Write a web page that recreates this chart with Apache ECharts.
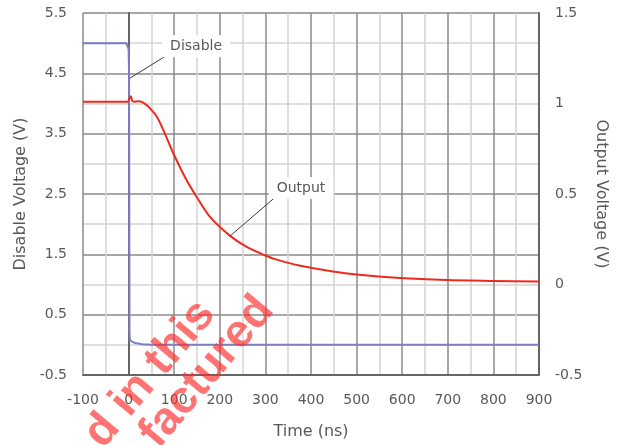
<!DOCTYPE html>
<html>
<head>
<meta charset="utf-8">
<script src="https://cdn.jsdelivr.net/npm/echarts@6/dist/echarts.min.js"></script>
<style>
	html, body { margin: 0; padding: 0; background: #fff; }
	#chart { width: 621px; height: 445px; }
</style>
</head>
<body>
<div id="chart"></div>
<script>
// Disable pin voltage (left axis, V) vs time (ns)
const disableTime = [-100, -5, -2, 0, 1, 2, 3, 8, 15, 30, 50, 900];
const disableVolt = [5.0, 5.0, 4.98, 4.9, 4.5, 0.2, 0.08, 0.05, 0.03, 0.01, 0.0, 0.0];

// Output voltage (right axis, V) vs time (ns)
const outTime = [-100, -2, 2, 5, 8, 12, 20, 30, 40, 47, 62, 76, 98, 127, 149, 178, 222, 258, 300, 321, 374, 448, 500, 595, 697, 798, 900];
const outVolt = [1.01, 1.01, 1.03, 1.04, 1.015, 1.01, 1.012, 1.008, 0.99, 0.973, 0.927, 0.854, 0.725, 0.577, 0.485, 0.375, 0.27, 0.209, 0.16, 0.14, 0.105, 0.072, 0.055, 0.036, 0.025, 0.02, 0.016];

// callouts: text position and leader line, in left-axis data coords
const callouts = [
	{ text: 'Disable', at: [148, 4.95], from: [3, 4.42], to: [82, 4.79] },
	{ text: 'Output', at: [378, 2.6], from: [222, 1.80], to: [319, 2.43] }
];

const textColor = '#595959';
const font = 'DejaVu Sans';

var myChart = echarts.init(document.getElementById('chart'));

let option = {
	animation: false,
	grid: { left: 83, right: 82, top: 13, bottom: 70 },
	xAxis: {
		type: 'value',
		min: -100,
		max: 900,
		interval: 100,
		name: 'Time (ns)',
		nameLocation: 'middle',
		nameGap: 49,
		nameTextStyle: { color: textColor, fontSize: 16, fontFamily: font },
		axisLine: { show: true, onZero: false, lineStyle: { color: '#666', width: 2 } },
		axisTick: { show: false },
		axisLabel: { color: textColor, fontSize: 14, fontFamily: font, margin: 18 },
		splitLine: { show: true, lineStyle: { color: '#8a8a8a', width: 1.5 } },
		minorTick: { show: false, splitNumber: 2 },
		minorSplitLine: { show: true, lineStyle: { color: '#d4d4d4', width: 1.5 } }
	},
	yAxis: [
		{
			type: 'value',
			min: -0.5,
			max: 5.5,
			interval: 1,
			name: 'Disable Voltage (V)',
			nameLocation: 'middle',
			nameGap: 52,
			nameTextStyle: { color: textColor, fontSize: 16, fontFamily: font },
			axisLine: { show: true, lineStyle: { color: '#666', width: 2 } },
			axisTick: { show: false },
			axisLabel: { color: textColor, fontSize: 14, fontFamily: font, margin: 16 },
			splitLine: { show: true, lineStyle: { color: '#8a8a8a', width: 1.5 } },
			minorTick: { show: false, splitNumber: 2 },
			minorSplitLine: { show: true, lineStyle: { color: '#d4d4d4', width: 1.5 } }
		},
		{
			type: 'value',
			min: -0.5,
			max: 1.5,
			interval: 0.5,
			name: 'Output Voltage (V)',
			nameLocation: 'middle',
			nameGap: 52,
			nameRotate: -90,
			nameTextStyle: { color: textColor, fontSize: 16, fontFamily: font },
			axisLine: { show: true, lineStyle: { color: '#666', width: 2 } },
			axisTick: { show: false },
			axisLabel: { color: textColor, fontSize: 14, fontFamily: font, margin: 16 },
			splitLine: { show: false }
		}
	],
	series: [
		{
			name: 'Disable',
			type: 'line',
			yAxisIndex: 0,
			symbol: 'none',
			lineStyle: { color: '#7b7fc6', width: 2 },
			data: disableTime.map((t, i) => [t, disableVolt[i]]),
			z: 3
		},
		{
			name: 'Output',
			type: 'line',
			yAxisIndex: 1,
			symbol: 'none',
			smooth: 0.3,
			lineStyle: { color: '#ee2a1e', width: 2 },
			data: outTime.map((t, i) => [t, outVolt[i]]),
			z: 4
		}
	]
};

myChart.setOption(option);

// callouts + watermark go on top as graphics
const toPx = (p) => myChart.convertToPixel({ xAxisIndex: 0, yAxisIndex: 0 }, p);
let graphics = [];
callouts.forEach(c => {
	const a = toPx(c.from), b = toPx(c.to), m = toPx(c.at);
	graphics.push({
		type: 'line', z: 50,
		shape: { x1: a[0], y1: a[1], x2: b[0], y2: b[1] },
		style: { stroke: '#3a3a3a', lineWidth: 1 }
	});
	graphics.push({
		type: 'text', z: 51,
		x: m[0], y: m[1],
		style: {
			text: c.text, fill: textColor, font: '14px "DejaVu Sans"',
			align: 'center', verticalAlign: 'middle',
			backgroundColor: '#fff', padding: [4, 8]
		}
	});
});
const wm = [
	{ text: 'd in this', x: 150, y: 374 },
	{ text: 'factured', x: 207, y: 372 }
];
wm.forEach(w => {
	graphics.push({
		type: 'text', z: 100,
		x: w.x, y: w.y,
		rotation: 50 * Math.PI / 180,
		style: {
			text: w.text, fill: 'rgba(255,40,40,0.65)',
			font: 'bold 46px "Liberation Sans"',
			align: 'center', verticalAlign: 'middle'
		}
	});
});
myChart.setOption({ graphic: graphics });
</script>
</body>
</html>
